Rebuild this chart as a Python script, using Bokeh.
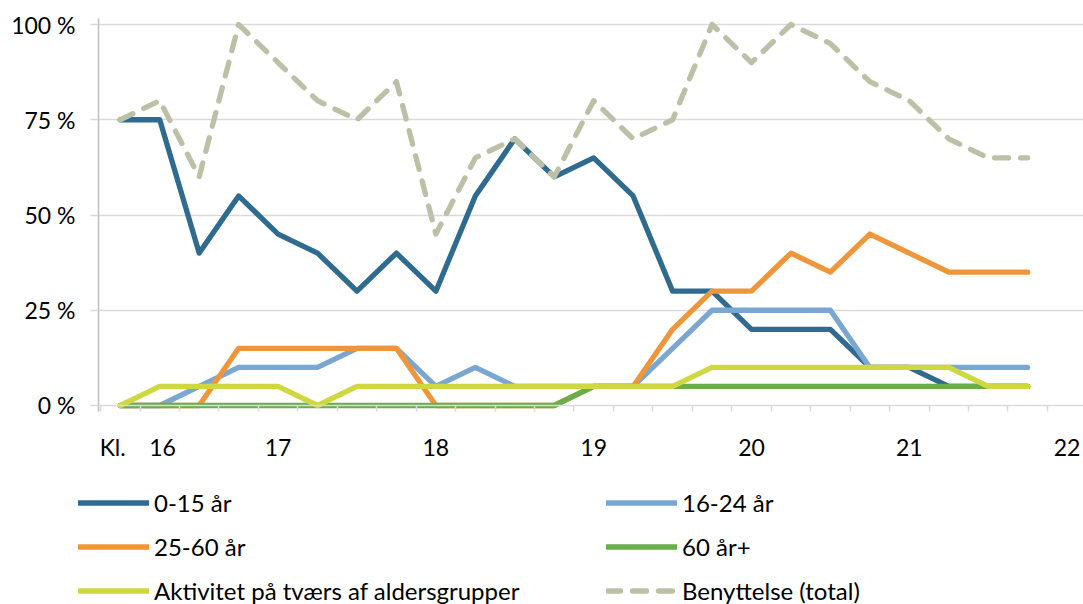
from bokeh.plotting import figure
from bokeh.models import Range1d, FixedTicker, Span, Legend, LegendItem
from bokeh.embed import file_html
from bokeh.resources import INLINE

# ---- data ----
times = ["16:00", "16:15", "16:30", "16:45", "17:00", "17:15", "17:30", "17:45",
         "18:00", "18:15", "18:30", "18:45", "19:00", "19:15", "19:30", "19:45",
         "20:00", "20:15", "20:30", "20:45", "21:00", "21:15", "21:30", "21:45"]
age_0_15 = [75, 75, 40, 55, 45, 40, 30, 40, 30, 55, 70, 60, 65, 55, 30, 30, 20, 20, 20, 10, 10, 5, 5, 5]
age_16_24 = [0, 0, 5, 10, 10, 10, 15, 15, 5, 10, 5, 5, 5, 5, 15, 25, 25, 25, 25, 10, 10, 10, 10, 10]
age_25_60 = [0, 0, 0, 15, 15, 15, 15, 15, 0, 0, 0, 0, 5, 5, 20, 30, 30, 40, 35, 45, 40, 35, 35, 35]
age_60_plus = [0, 0, 0, 0, 0, 0, 0, 0, 0, 0, 0, 0, 5, 5, 5, 5, 5, 5, 5, 5, 5, 5, 5, 5]
aktivitet = [0, 5, 5, 5, 5, 0, 5, 5, 5, 5, 5, 5, 5, 5, 5, 10, 10, 10, 10, 10, 10, 10, 5, 5]
total = [75, 80, 60, 100, 90, 80, 75, 85, 45, 65, 70, 60, 80, 70, 75, 100, 90, 100, 95, 85, 80, 70, 65, 65]

series_names = ["0-15 år", "16-24 år", "25-60 år", "60 år+",
                "Aktivitet på tværs af aldersgrupper", "Benyttelse (total)"]
x_label_hours = [16, 17, 18, 19, 20, 21, 22]
x_labels = ["Kl.\u00a0\u00a0\u00a0\u00a016", "17", "18", "19", "20", "21", "22"]
y_ticks = [0, 25, 50, 75, 100]
y_labels = ["0 %", "25 %", "50 %", "75 %", "100 %"]

# ---- helpers ----
hours = [int(t[:2]) + int(t[3:]) / 60 for t in times]
step = hours[1] - hours[0]
boundaries = [h - step / 2 for h in hours] + [hours[-1] + step / 2]

FONT = "Lato"
colors = ["#2F6A8F", "#7AA7D2", "#F0963A", "#69AD4C", "#CFD840", "#BCC0A6"]
values = [age_0_15, age_16_24, age_25_60, age_60_plus, aktivitet, total]
LW = 5.3
DASH = "14 12"

p = figure(width=1083, height=470, frame_width=985, frame_height=393,
           min_border_left=98, min_border_right=0, min_border_top=18, min_border_bottom=59,
           x_range=Range1d(15.862, 22.104), y_range=Range1d(-1.575, 101.575),
           output_backend="svg", toolbar_location=None)
p.outline_line_color = None

# grid
p.xgrid.visible = False
p.ygrid.ticker = FixedTicker(ticks=[25, 50, 75, 100])
p.ygrid.grid_line_color = "#D9D9D9"
p.ygrid.grid_line_width = 1.5

# y axis
p.yaxis.ticker = FixedTicker(ticks=y_ticks)
p.yaxis.major_label_overrides = dict(zip(y_ticks, y_labels))
p.yaxis.axis_line_color = "#BFBFBF"
p.yaxis.axis_line_width = 1.5
p.yaxis.major_tick_line_color = "#D9D9D9"
p.yaxis.major_tick_line_width = 1.5
p.yaxis.major_tick_out = 8
p.yaxis.major_tick_in = 0
p.yaxis.minor_tick_line_color = None
p.yaxis.major_label_standoff = 15
p.yaxis.major_label_text_font = FONT
p.yaxis.major_label_text_font_size = "23px"
p.yaxis.major_label_text_color = "#000000"

# x axis
label_pos = [x_label_hours[0] + 0.111] + x_label_hours[1:]  # first label sits right of 16:00 as in source
p.xaxis.ticker = FixedTicker(ticks=label_pos, minor_ticks=boundaries)
p.xaxis.major_label_overrides = dict(zip(label_pos, x_labels))
p.xaxis.axis_line_color = None
p.xaxis.major_tick_line_color = None
p.xaxis.minor_tick_line_color = "#D9D9D9"
p.xaxis.minor_tick_line_width = 1.5
p.xaxis.minor_tick_in = 6
p.xaxis.minor_tick_out = 0
p.xaxis.major_label_standoff = 15
p.xaxis.major_label_text_font = FONT
p.xaxis.major_label_text_font_size = "23px"
p.xaxis.major_label_text_color = "#000000"

p.add_layout(Span(location=0, dimension="width", line_color="#D9D9D9", line_width=1.5))

for name, vals, col in zip(series_names, values, colors):
    dash = DASH if name.startswith("Benyttelse") else "solid"
    p.line(hours, vals, line_color=col, line_width=LW, line_dash=dash,
           line_cap="round", line_join="round")

# ---- legend figure (separate root, stacked below the chart) ----
lg = figure(width=1083, height=134, min_border_left=0, min_border_right=0,
            min_border_top=0, min_border_bottom=0,
            x_range=Range1d(0, 1), y_range=Range1d(0, 1),
            x_axis_location=None, y_axis_location=None,
            output_backend="svg", toolbar_location=None)
lg.outline_line_color = None
lg.grid.visible = False
items = []
for name, col in zip(series_names, colors):
    dash = DASH if name.startswith("Benyttelse") else "solid"
    # proxy renderer for the legend key only (kept outside the visible range)
    r = lg.line([5, 6], [5, 6], line_color=col, line_width=LW, line_dash=dash, line_cap="round")
    items.append(LegendItem(label=name, renderers=[r]))

legend = Legend(items=items, location=(78, -1), orientation="horizontal", ncols=2,
                glyph_width=71, glyph_height=29, label_height=29, label_width=437,
                label_standoff=5, spacing=15, padding=0, margin=0,
                border_line_color=None, background_fill_alpha=0,
                label_text_font=FONT, label_text_font_size="24px", label_text_color="#000000")
lg.add_layout(legend, "center")

open("out.html", "w").write(file_html([p, lg], INLINE))
